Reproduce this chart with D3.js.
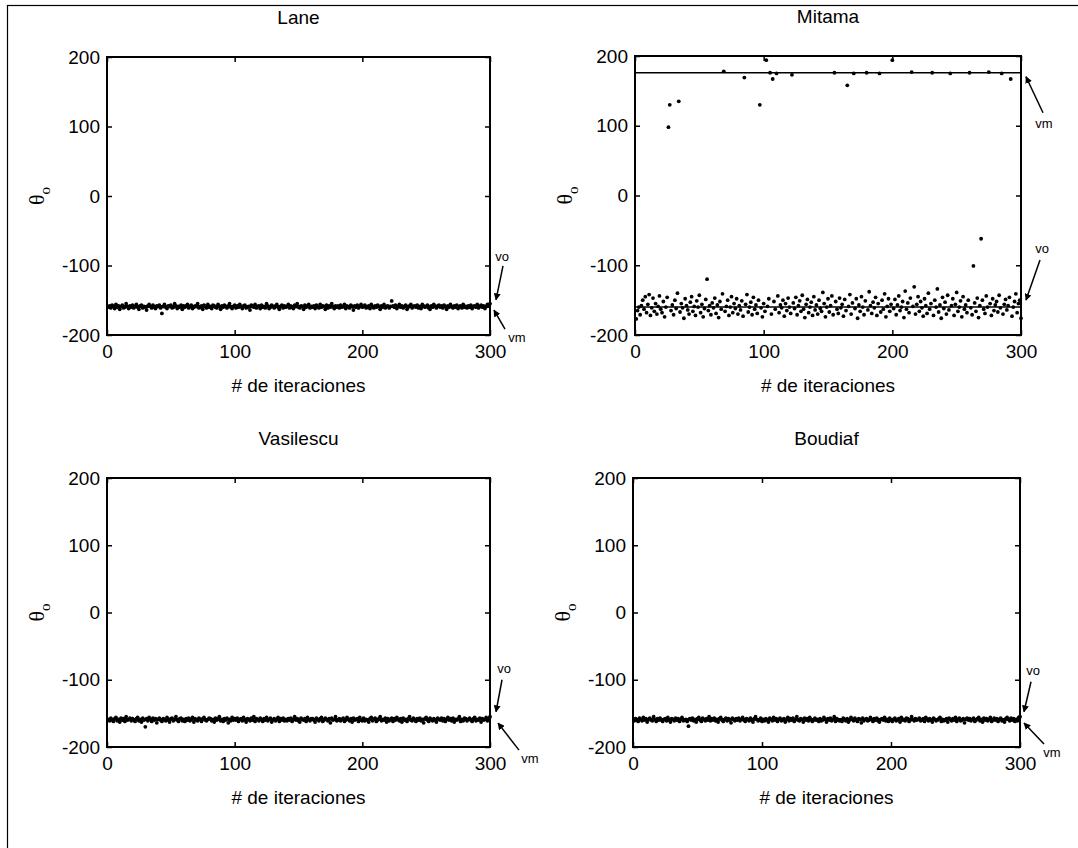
<!DOCTYPE html>
<html>
<head>
<meta charset="utf-8">
<script src="https://cdn.jsdelivr.net/npm/d3@7"></script>
<style>
body { margin: 0; background: #fff; }
svg { display: block; font-family: "Liberation Sans", Arial, sans-serif; }
</style>
</head>
<body>
<svg id="chart" width="1078" height="848"></svg>
<script>
// axis ticks
const iterTicks = [0, 100, 200, 300];
const thetaTicks = [-200, -100, 0, 100, 200];
const panelTitles = ["Lane", "Mitama", "Vasilescu", "Boudiaf"];

// theta per iteration (1..300)
const laneTheta = [
  -160,-158,-161,-157,-159,-162,-156,-160,-158,-163,-159,-157,-161,-160,-155,-159,-162,-158,-160,-157,
  -161,-159,-156,-160,-163,-158,-157,-161,-159,-160,-164,-158,-156,-159,-161,-157,-160,-162,-158,-159,
  -157,-161,-169,-159,-156,-160,-162,-158,-159,-157,-161,-160,-155,-158,-162,-159,-160,-157,-163,-158,
  -160,-158,-156,-161,-159,-157,-162,-160,-158,-159,-155,-161,-160,-158,-163,-157,-159,-161,-156,-160,
  -159,-162,-157,-158,-160,-161,-156,-159,-163,-158,-160,-157,-159,-161,-158,-155,-160,-162,-159,-157,
  -161,-158,-160,-156,-159,-162,-158,-157,-161,-160,-159,-164,-157,-158,-160,-156,-161,-159,-158,-162,
  -157,-160,-159,-161,-155,-158,-162,-160,-157,-159,-161,-158,-156,-160,-163,-159,-157,-161,-158,-160,
  -159,-156,-161,-158,-160,-162,-157,-159,-155,-160,-161,-158,-159,-163,-157,-160,-158,-156,-161,-159,
  -160,-158,-162,-157,-159,-161,-156,-160,-158,-159,-163,-157,-161,-158,-160,-155,-159,-162,-158,-160,
  -158,-161,-157,-160,-159,-156,-162,-158,-160,-161,-157,-159,-164,-158,-160,-157,-161,-159,-156,-160,
  -159,-157,-161,-160,-158,-162,-156,-159,-161,-158,-160,-157,-159,-163,-158,-160,-156,-161,-159,-158,
  -161,-159,-151,-158,-160,-157,-162,-159,-156,-160,-158,-161,-159,-157,-163,-160,-158,-156,-161,-159,
  -158,-160,-157,-161,-159,-162,-156,-158,-160,-159,-157,-161,-163,-158,-160,-156,-159,-161,-158,-157,
  -160,-158,-161,-157,-159,-163,-158,-160,-156,-159,-161,-158,-160,-157,-162,-159,-158,-161,-156,-160,
  -159,-161,-158,-160,-157,-162,-159,-158,-160,-156,-161,-159,-157,-160,-158,-162,-159,-156,-157,-155
];

const mitamaTheta = [
  -177,-165,-160,-171,-158,-150,-163,-145,-168,-156,-142,-172,-161,-147,-166,-155,-170,-159,-144,-163,
  -168,-152,-174,-160,-146,98,130,-165,-157,-171,-150,-162,-140,135,-167,-155,-161,-176,-148,-158,
  -164,-170,-153,-145,-166,-159,-172,-151,-160,-143,-168,-156,-174,-162,-149,-120,-165,-158,-171,-154,
  -161,-147,-169,-157,-175,-152,-163,-141,178,-166,-159,-150,-172,-160,-145,-168,-155,-162,-148,-170,
  -158,-164,-151,-173,169,-156,-142,-167,-160,-153,-171,-146,-163,-157,-169,-150,130,-161,-174,-155,
  -166,194,-159,-148,176,-170,167,-152,-163,175,-144,-168,-157,-161,-150,-173,-155,-165,-147,-160,
  -169,173,-154,-162,-146,-171,-158,-151,-166,-143,-163,-175,-156,-149,-168,-160,-153,-172,-145,-164,
  -157,-170,-150,-162,-166,-139,-155,-174,-160,-148,-167,-158,-144,-171,176,-152,-163,-169,-147,-161,
  -156,-173,-149,-165,158,-159,-142,-170,-154,175,-162,-148,-176,-157,-166,-145,-160,-171,-151,176,
  -164,-138,-158,-169,-153,-161,-146,-172,-155,175,-167,-150,-163,-141,-174,-159,-148,-166,-156,194,
  -162,-149,-171,-157,-144,-165,-160,-152,-175,-137,-163,-154,-168,-147,177,-159,-131,-170,-156,-145,
  -166,-152,-161,-173,-148,-158,-169,-140,-163,-155,176,-172,-150,-160,-134,-167,-157,-176,-146,-162,
  -153,-170,-143,-164,175,-158,-148,-172,-156,-139,-166,-160,-151,-174,-145,-163,-157,-168,-150,176,
  -161,-171,-101,-154,-166,-147,-175,-158,-62,-150,-163,-169,-144,-160,177,-155,-172,-148,-165,-157,
  -152,-167,-143,-161,175,-170,-156,-149,-164,-158,-146,167,-173,-160,-152,-141,-168,-155,-150,-176
];

const vasilescuTheta = [
  -159,-161,-157,-160,-162,-158,-156,-161,-159,-163,-157,-160,-158,-162,-155,-160,-159,-157,-161,-158,
  -160,-162,-158,-156,-161,-159,-163,-157,-160,-170,-158,-161,-156,-159,-162,-157,-160,-158,-164,-159,
  -157,-160,-162,-158,-159,-161,-156,-160,-163,-158,-157,-161,-159,-155,-160,-162,-158,-157,-161,-159,
  -162,-158,-160,-157,-161,-159,-156,-163,-158,-160,-161,-157,-159,-162,-158,-156,-160,-161,-159,-157,
  -158,-161,-159,-163,-157,-160,-158,-155,-161,-159,-162,-158,-160,-157,-164,-159,-161,-156,-160,-158,
  -160,-157,-162,-159,-158,-161,-156,-160,-163,-158,-159,-161,-157,-160,-155,-162,-158,-159,-161,-157,
  -159,-162,-158,-160,-156,-161,-159,-157,-163,-160,-158,-161,-159,-156,-162,-158,-160,-157,-161,-159,
  -161,-158,-160,-157,-162,-159,-155,-160,-158,-161,-163,-157,-159,-160,-158,-162,-156,-159,-161,-158,
  -158,-160,-163,-157,-159,-161,-158,-156,-162,-160,-157,-159,-161,-158,-164,-157,-160,-159,-155,-161,
  -160,-158,-161,-159,-157,-162,-160,-156,-159,-161,-158,-163,-157,-160,-159,-158,-162,-156,-160,-161,
  -157,-161,-159,-160,-163,-158,-156,-161,-159,-157,-162,-160,-158,-155,-161,-159,-160,-157,-163,-158,
  -161,-159,-157,-162,-158,-160,-156,-159,-161,-158,-163,-157,-160,-159,-162,-158,-155,-160,-161,-157,
  -159,-162,-158,-160,-157,-161,-159,-164,-158,-156,-160,-162,-157,-159,-161,-158,-160,-163,-157,-159,
  -160,-157,-161,-158,-162,-159,-156,-160,-158,-161,-157,-163,-159,-160,-158,-155,-162,-159,-161,-157,
  -158,-161,-159,-157,-160,-162,-158,-156,-161,-159,-160,-157,-163,-158,-160,-159,-156,-161,-158,-155
];

const boudiafTheta = [
  -161,-158,-160,-162,-157,-159,-161,-156,-160,-158,-163,-159,-157,-160,-161,-155,-159,-162,-158,-160,
  -157,-160,-162,-159,-158,-161,-156,-160,-163,-158,-159,-161,-157,-160,-158,-162,-159,-156,-161,-160,
  -159,-162,-169,-158,-160,-157,-161,-159,-163,-158,-156,-160,-162,-157,-159,-161,-158,-160,-155,-161,
  -158,-160,-157,-161,-159,-163,-158,-156,-160,-162,-159,-157,-161,-158,-160,-164,-157,-159,-161,-158,
  -160,-157,-161,-159,-156,-160,-162,-158,-159,-161,-157,-160,-163,-158,-155,-159,-161,-160,-157,-162,
  -159,-161,-158,-160,-163,-157,-159,-161,-156,-160,-158,-162,-159,-157,-161,-160,-158,-163,-159,-156,
  -161,-158,-160,-157,-162,-159,-155,-160,-161,-158,-159,-163,-157,-160,-158,-161,-156,-159,-162,-160,
  -157,-160,-159,-162,-158,-161,-160,-156,-159,-163,-158,-160,-157,-161,-159,-155,-162,-158,-160,-161,
  -160,-162,-157,-159,-161,-158,-163,-160,-156,-159,-161,-157,-160,-162,-158,-159,-164,-157,-161,-159,
  -158,-161,-160,-156,-159,-162,-158,-160,-157,-161,-163,-159,-158,-160,-156,-161,-159,-162,-157,-160,
  -162,-159,-157,-161,-160,-158,-163,-156,-160,-159,-161,-157,-158,-162,-160,-155,-159,-161,-158,-160,
  -159,-157,-161,-160,-158,-162,-156,-159,-161,-158,-160,-163,-157,-159,-161,-160,-158,-156,-162,-159,
  -161,-160,-158,-163,-157,-159,-161,-158,-160,-156,-162,-159,-157,-161,-160,-158,-164,-159,-157,-160,
  -158,-161,-159,-157,-162,-160,-158,-156,-161,-159,-163,-157,-160,-158,-161,-159,-156,-162,-160,-157,
  -160,-158,-162,-159,-157,-161,-160,-163,-158,-156,-159,-161,-157,-160,-158,-162,-159,-161,-156,-155
];

// reference lines (vo, vm)
const voValues = [-158, -160, -158, -158];
const vmValues = [-160, 176, -160, -160];

const svg = d3.select("#chart");

// outer frame (only left/top edges fall inside the picture)
svg.append("rect")
    .attr("x", 7.5).attr("y", 5.5)
    .attr("width", 1100).attr("height", 870)
    .attr("fill", "none").attr("stroke", "#000").attr("stroke-width", 1.2);

svg.append("defs").append("marker")
    .attr("id", "head")
    .attr("viewBox", "0 0 10 10")
    .attr("refX", 9).attr("refY", 5)
    .attr("markerWidth", 7).attr("markerHeight", 7)
    .attr("markerUnits", "userSpaceOnUse")
    .attr("orient", "auto")
  .append("path")
    .attr("d", "M0,0L10,5L0,10z")
    .attr("fill", "#000");

const panels = [
    { data: laneTheta, box: [107, 490, 57, 335],
      vo: { text: [12, -49], from: [13, -40], to: [6, -6] },
      vm: { text: [27, 30], from: [15, 22], to: [4, 3] } },
    { data: mitamaTheta, box: [635, 1021, 56, 335],
      vo: { text: [21, -59], from: [19, -47], to: [5, -7] },
      vm: { text: [23, 51], from: [22, 40], to: [5, 4] } },
    { data: vasilescuTheta, box: [107, 490, 478, 747],
      vo: { text: [14, -50], from: [12, -39], to: [6, -7] },
      vm: { text: [40, 38], from: [29, 30], to: [8, 3] } },
    { data: boudiafTheta, box: [633, 1020, 478, 747],
      vo: { text: [13, -48], from: [11, -37], to: [4, -7] },
      vm: { text: [32, 32], from: [24, 24], to: [4, 3] } }
];

panels.forEach((p, k) => {
    const [x0, x1, y0, y1] = p.box;
    const x = d3.scaleLinear().domain([0, 300]).range([x0, x1]);
    const y = d3.scaleLinear().domain([-200, 200]).range([y1, y0]);
    const g = svg.append("g");

    // inward ticks on all four sides
    const axes = [
        [d3.axisBottom(x), `translate(0,${y1})`, true],
        [d3.axisTop(x), `translate(0,${y0})`, false],
        [d3.axisLeft(y), `translate(${x0},0)`, true],
        [d3.axisRight(y), `translate(${x1},0)`, false]
    ];
    axes.forEach(([ax, tr, labels], i) => {
        ax.tickValues(i < 2 ? iterTicks : thetaTicks)
          .tickSizeInner(-5).tickSizeOuter(0)
          .tickPadding(i < 2 ? 10 : 7)
          .tickFormat(labels ? (d => String(d)) : "");
        const a = g.append("g").attr("transform", tr).call(ax);
        a.select(".domain").remove();
        a.selectAll(".tick line").attr("stroke", "#000").attr("stroke-width", 1.5);
        a.selectAll("text").attr("font-size", 19).attr("fill", "#000")
            .attr("font-family", "'Liberation Sans', Arial, sans-serif");
    });

    // points
    g.append("g").selectAll("circle")
        .data(p.data)
        .join("circle")
        .attr("cx", (d, i) => x(i + 1))
        .attr("cy", d => y(d))
        .attr("r", 1.9)
        .attr("fill", "#000");

    // vo / vm lines
    [voValues[k], vmValues[k]].forEach(v => {
        g.append("line")
            .attr("x1", x0).attr("x2", x1)
            .attr("y1", y(v)).attr("y2", y(v))
            .attr("stroke", "#000").attr("stroke-width", 1.5);
    });

    g.append("rect")
        .attr("x", x0).attr("y", y0)
        .attr("width", x1 - x0).attr("height", y1 - y0)
        .attr("fill", "none").attr("stroke", "#000").attr("stroke-width", 2);

    // annotations
    [["vo", voValues[k], p.vo], ["vm", vmValues[k], p.vm]].forEach(([lbl, v, a]) => {
        const px = x(300), py = y(v);
        g.append("line")
            .attr("x1", px + a.from[0]).attr("y1", py + a.from[1])
            .attr("x2", px + a.to[0]).attr("y2", py + a.to[1])
            .attr("stroke", "#000").attr("stroke-width", 1.5)
            .attr("marker-end", "url(#head)");
        g.append("text")
            .attr("x", px + a.text[0]).attr("y", py + a.text[1])
            .attr("text-anchor", "middle").attr("dy", "0.35em")
            .attr("font-size", 13)
            .text(lbl);
    });

    // titles and axis labels
    g.append("text")
        .attr("x", (x0 + x1) / 2).attr("y", y0 - 33)
        .attr("text-anchor", "middle").attr("font-size", 19)
        .text(panelTitles[k]);

    g.append("text")
        .attr("x", (x0 + x1) / 2).attr("y", y1 + 57)
        .attr("text-anchor", "middle").attr("font-size", 19)
        .text("# de iteraciones");

    const yl = g.append("text")
        .attr("transform", `translate(${x0 - 63},${(y0 + y1) / 2}) rotate(-90)`)
        .attr("text-anchor", "middle")
        .attr("font-family", "'Liberation Serif', 'Times New Roman', serif")
        .attr("font-size", 22);
    yl.append("tspan").text("θ");
    yl.append("tspan").attr("font-size", 15).attr("dy", 6).text("o");
});
</script>
</body>
</html>
